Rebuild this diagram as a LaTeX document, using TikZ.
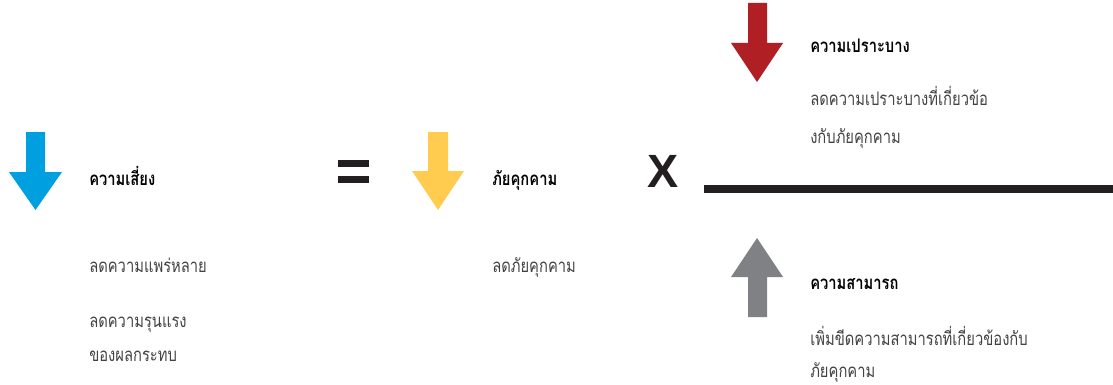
\documentclass[tikz,border=0pt]{standalone}
\usepackage{fontspec}
\newfontfamily\thaifont[Script=Thai,FakeStretch=0.79]{Loma}
\setmainfont{Liberation Sans}
\definecolor{riskblue}{RGB}{0,160,224}
\definecolor{threatyellow}{RGB}{255,204,80}
\definecolor{vulnred}{RGB}{176,31,36}
\definecolor{capgray}{RGB}{128,129,132}
\definecolor{inkdark}{RGB}{35,31,32}
\tikzset{
  title/.style={anchor=base west, inner sep=0pt, font=\thaifont\bfseries\fontsize{14}{16}\selectfont},
  body/.style={anchor=base west, inner sep=0pt, text=inkdark!85, font=\thaifont\fontsize{14}{16}\selectfont}
}
\begin{document}
\begin{tikzpicture}[x=0.75pt,y=-0.75pt]
    \useasboundingbox (0,0) rectangle (1113,385);

    % arrows
    \fill[riskblue] (26,132) -- (45,132) -- (45,172) -- (62,172) -- (35.5,210) -- (9,172) -- (26,172) -- cycle;
    \fill[threatyellow] (428,132) -- (448,132) -- (448,171) -- (464,171) -- (438,210) -- (412,171) -- (428,171) -- cycle;
    \fill[vulnred] (748,3) -- (767,3) -- (767,43) -- (783,43) -- (757,82) -- (731,43) -- (748,43) -- cycle;
    \fill[capgray] (748,317) -- (767,317) -- (767,277) -- (783,277) -- (757,238) -- (731,277) -- (748,277) -- cycle;

    % = , x and the fraction bar
    \fill[inkdark] (338,160) rectangle (369,167);
    \fill[inkdark] (338,176) rectangle (369,183);
    \node[inner sep=0pt, text=inkdark, font=\bfseries\fontsize{35}{35}\selectfont] (times) at (663.5,171) {X};
    \fill[inkdark] (704,185) rectangle (1113,193);

%    \draw[gray!30, step=50] (0,0) grid (1113,385);

    \node[title] (risk) at (89,185) {ความเสี่ยง};
    \node[body] (risk1) at (89,272) {ลดความแพร่หลาย};
    \node[body] (risk2) at (89,327) {ลดความรุนแรง};
    \node[body] (risk3) at (89,361) {ของผลกระทบ};

    \node[title] (threat) at (492,185) {ภัยคุกคาม};
    \node[body] (threat1) at (492,272) {ลดภัยคุกคาม};

    \node[title] (vuln) at (810,53) {ความเปราะบาง};
    \node[body] (vuln1) at (810,105) {ลดความเปราะบางที่เกี่ยวข้อ};
    \node[body] (vuln2) at (810,143) {งกับภัยคุกคาม};

    \node[title] (cap) at (810,289) {ความสามารถ};
    \node[body] (cap1) at (810,345) {เพิ่มขีดความสามารถที่เกี่ยวข้องกับ};
    \node[body] (cap2) at (810,377) {ภัยคุกคาม};

\end{tikzpicture}
\end{document}
